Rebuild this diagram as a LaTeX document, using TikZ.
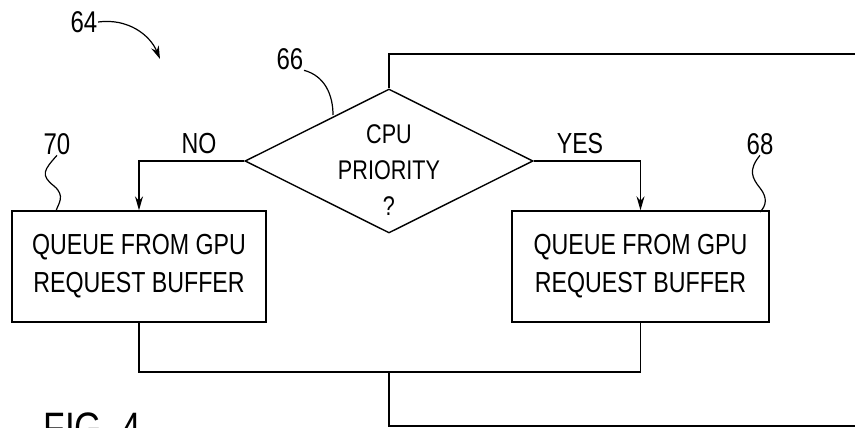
\documentclass[tikz,border=0pt]{standalone}
\usepackage{fontspec}
\setmainfont[FakeStretch=0.8]{Liberation Sans}
\usetikzlibrary{shapes.geometric,arrows.meta}
\begin{document}
\begin{tikzpicture}[x=1pt,y=-1pt,line width=1.4pt,
  flowbox/.style={draw,minimum height=111pt,inner sep=0pt,align=center,
    font=\fontsize{29}{38}\selectfont},
  decision/.style={draw,diamond,minimum width=288pt,minimum height=144pt,
    inner sep=0pt},
  refnum/.style={inner sep=0pt,font=\fontsize{30}{30}\selectfont},
  branchlabel/.style={inner sep=0pt,font=\fontsize{29}{29}\selectfont},
  flow/.style={-{Stealth[length=14pt,width=8pt]}},
  leader/.style={line width=1.2pt}]
\useasboundingbox (0,0) rectangle (855,428);

% decision and the two queue steps
\node[decision] (dia) at (389,161) {};
\node[align=center,inner sep=0pt,font=\fontsize{27}{36}\selectfont]
  (diatext) at (389,170) {CPU\\PRIORITY\\?};
\node[flowbox,minimum width=254pt] (gpuq) at (139,266.5)
  {QUEUE FROM GPU\\REQUEST BUFFER};
\node[flowbox,minimum width=257pt] (cpuq) at (640.5,266.5)
  {QUEUE FROM GPU\\REQUEST BUFFER};

% branch labels
\node[branchlabel] (no) at (199,144) {NO};
\node[branchlabel] (yes) at (580,144) {YES};

% reference numerals
\node[refnum] (r64) at (84,22) {64};
\node[refnum] (r66) at (290,59) {66};
\node[refnum] (r70) at (57,144) {70};
\node[refnum] (r68) at (760,144) {68};
\node[inner sep=0pt,anchor=north west,font=\fontsize{44}{44}\selectfont]
  (fig) at (43,412) {FIG. 4};

% free ends of the loop lines
\coordinate (topturn) at (389,54);
\coordinate (topend) at (855,54);
\coordinate (merge) at (389,372);
\coordinate (botend) at (855,426);

% flow lines
\draw (dia.north) -- (topturn) -- (topend);
\draw[flow] (dia.west) -| (gpuq.north);
\draw[flow] (dia.east) -| (cpuq.north);
\draw (gpuq.south) |- (merge) -| (cpuq.south);
\draw (merge) |- (botend);

% leaders
\coordinate (t64) at (160,59);
\draw[leader,-{Stealth[length=13pt,width=8pt]}]
  (r64.east) .. controls (128,18) and (150,35) .. (t64);
\coordinate (h66) at (333,115);
\draw[leader] (r66.south east) .. controls (325,76) and (333,95) .. (h66);
\coordinate (h70) at (56,211);
\draw[leader] (r70.south) .. controls (44,170) and (40,175) .. (54,186)
  .. controls (66,196) and (58,204) .. (h70);
\coordinate (h68) at (760,212);
\draw[leader] (r68.south) .. controls (748,170) and (752,178) .. (760,188)
  .. controls (768,198) and (766,206) .. (h68);
\end{tikzpicture}
\end{document}
